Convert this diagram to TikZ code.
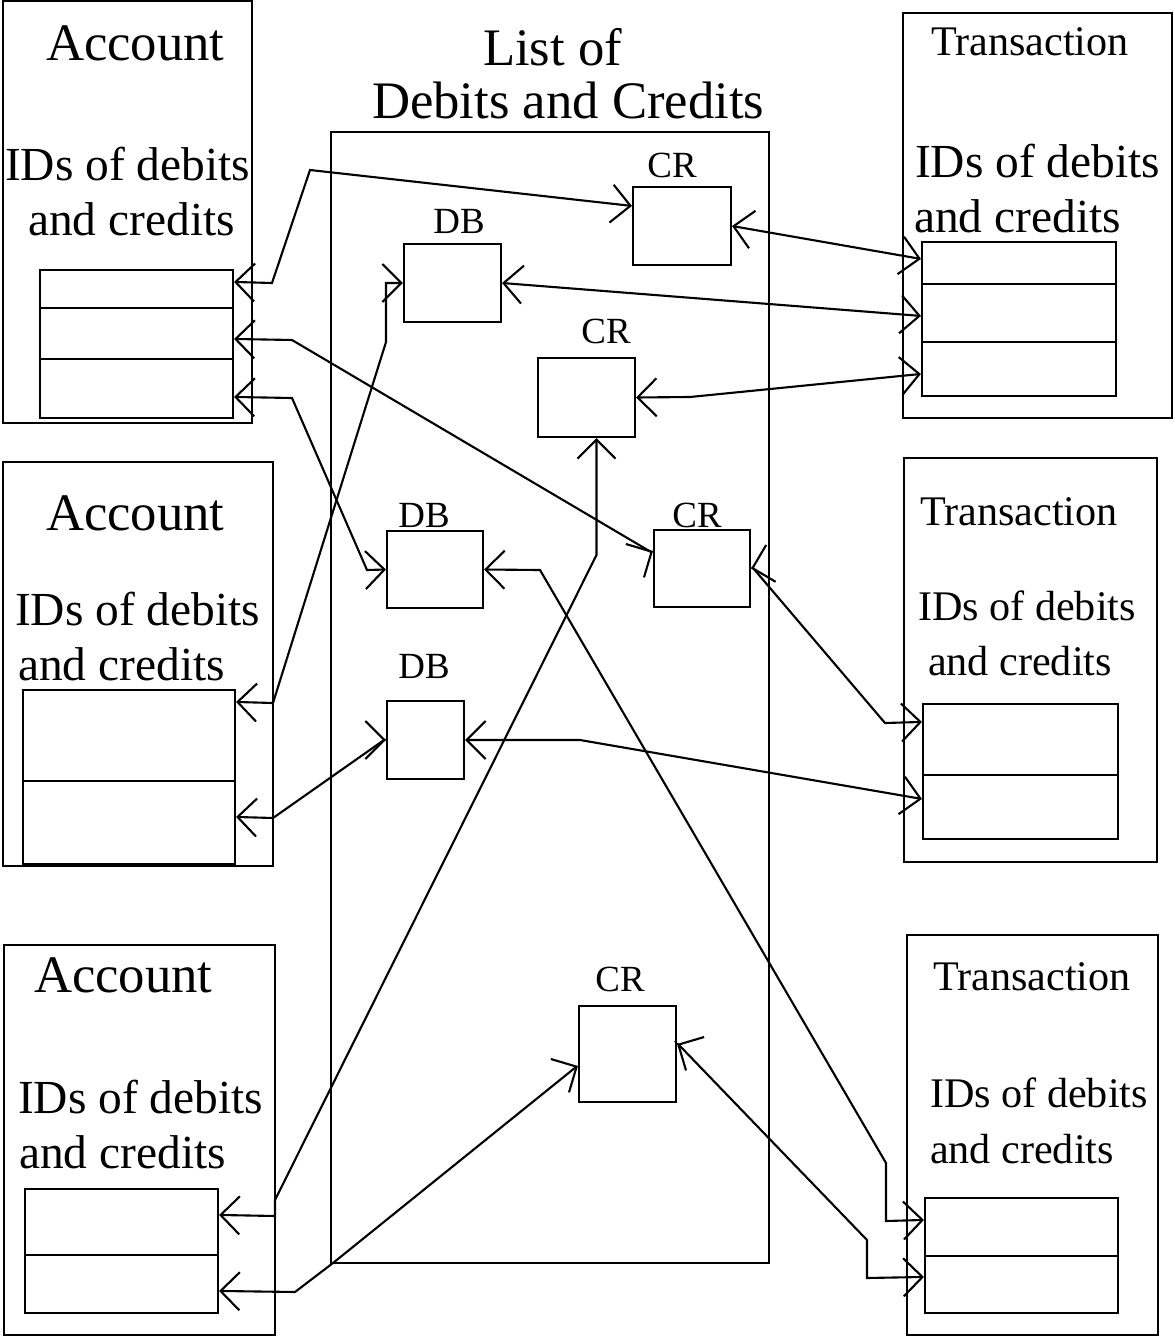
\documentclass[tikz,border=0pt]{standalone}
\usepackage{fontspec}
\setmainfont{Liberation Serif}
\usetikzlibrary{arrows.meta,calc,fit}

\begin{document}
\begin{tikzpicture}[x=0.02cm, y=-0.02cm, line width=1.2pt,
    box/.style={draw, inner sep=0pt},
    head/.style={font=\fontsize{30}{36}\selectfont, inner sep=0pt, anchor=base west},
    ids/.style={font=\fontsize{27}{32}\selectfont, inner sep=0pt, anchor=base west},
    sml/.style={font=\fontsize{24}{29}\selectfont, inner sep=0pt, anchor=base west},
    tag/.style={font=\fontsize{21}{25}\selectfont, inner sep=0pt, anchor=base},
    link/.style={{Straight Barb[length=0.38cm,width=0.76cm]}-{Straight Barb[length=0.38cm,width=0.76cm]}}]

    \useasboundingbox (0,0) rectangle (1174,1339);

    % accounts, transactions and the list in between
    \foreach \nm/\xa/\ya/\xb/\yb in {
        acc1/3/1/252/423, a1r1/40/270/233/308, a1r2/40/308/233/359, a1r3/40/359/233/418,
        acc2/3/462/273/866, a2r1/23/690/235/781, a2r2/23/781/235/864,
        acc3/4/945/275/1335, a3r1/25/1189/218/1255, a3r2/25/1255/218/1313,
        trn1/903/13/1172/418, t1r1/922/242/1116/284, t1r2/922/284/1116/342, t1r3/922/342/1116/396,
        trn2/904/458/1157/862, t2r1/923/704/1118/775, t2r2/923/775/1118/839,
        trn3/907/935/1158/1335, t3r1/925/1198/1118/1256, t3r2/925/1256/1118/1313,
        list/331/132/769/1263,
        cr1/633/187/731/265, db1/404/244/501/322, cr2/538/358/635/437,
        db2/387/531/483/608, cr3/654/530/750/607, db3/387/701/464/779,
        cr4/579/1006/676/1102}
        \node [box, fit={(\xa,\ya) (\xb,\yb)}] (\nm) {};

    \foreach \nm/\x/\y/\t in {ttl1/482/65/List of, ttl2/371/118/Debits and Credits,
        a1head/45/60/Account, a2head/45/530/Account, a3head/33/992/Account}
        \node [head] (\nm) at (\x,\y) {\t};

    \foreach \nm/\x/\y/\t in {a1ids/4/180/IDs of debits, a1and/27/235/and credits,
        a2ids/14/625/IDs of debits, a2and/17/680/and credits,
        a3ids/17/1113/IDs of debits, a3and/18/1168/and credits,
        t1ids/914/177/IDs of debits, t1and/913/232/and credits}
        \node [ids] (\nm) at (\x,\y) {\t};

    \foreach \nm/\x/\y/\t in {t1head/930/55/Transaction, t2head/919/525/Transaction,
        t3head/932/990/Transaction, t2ids/917/620/IDs of debits, t2and/927/675/and credits,
        t3ids/929/1107/IDs of debits, t3and/929/1163/and credits}
        \node [sml] (\nm) at (\x,\y) {\t};

    \foreach \nm/\x/\y/\t in {lcr1/672/177/CR, ldb1/459/233/DB, lcr2/606/343/CR,
        ldb2/424/527/DB, lcr3/697/527/CR, ldb3/424/678/DB, lcr4/620/991/CR}
        \node [tag] (\nm) at (\x,\y) {\t};

    % account side
    \draw [link] ($(a1r1.north east)+(0,13)$) -- (272,283) -- (310,170) -- ($(cr1.north west)+(0,20)$);
    \draw [link] ($(a1r2.north east)+(0,32)$) -- (292,340) -- (651,552) -- ($(cr3.north west)+(0,22)$);
    \draw [link] ($(a1r3.north east)+(0,39)$) -- (292,398) -- (367,570) -- (db2.west);
    \draw [link] ($(a2r1.north east)+(0,13)$) -- (273,703) -- (386,342) -- (386,283) -- (db1.west);
    \draw [link] ($(a2r2.north east)+(0,37)$) -- (273,818) -- (384,740) -- (db3.west);
    \draw [link] ($(a3r1.north east)+(0,27)$) -- (275,1216) -- (275,1200) -- (596.5,555) -- ($(cr2.south)+(10,0)$);
    \draw [link] ($(a3r2.north east)+(0,37)$) -- (295,1292) -- (333,1263) -- (576,1067) -- ($(cr4.north west)+(0,61)$);

    % transaction side
    \draw [link] (cr1.east) -- ($(t1r1.north west)+(0,18)$);
    \draw [link] (db1.east) -- ($(t1r2.north west)+(0,33)$);
    \draw [link] (cr2.east) -- (690,397) -- ($(t1r3.north west)+(0,33)$);
    \draw [link] (cr3.east) -- (753,568) -- (885,723) -- ($(t2r1.north west)+(0,19)$);
    \draw [link] (db3.east) -- (580,740) -- ($(t2r2.north west)+(0,25)$);
    \draw [link] (db2.east) -- (540,570) -- (886,1163) -- (886,1221) -- ($(t3r1.north west)+(0,23)$);
    \draw [link] ($(cr4.north east)+(0,39)$) -- (679,1045) -- (867,1240) -- (867,1278) -- ($(t3r2.north west)+(0,22)$);

\end{tikzpicture}
\end{document}
